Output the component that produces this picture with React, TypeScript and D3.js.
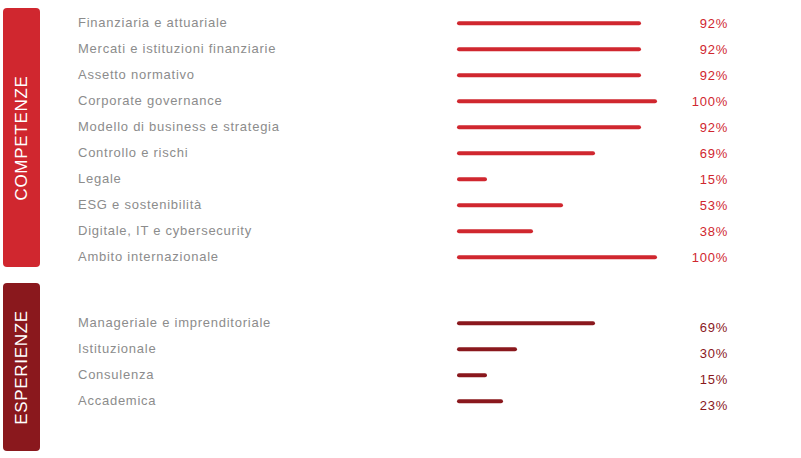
import React from "react";
import * as d3 from "d3";

const compCategories = [
  "Finanziaria e attuariale",
  "Mercati e istituzioni finanziarie",
  "Assetto normativo",
  "Corporate governance",
  "Modello di business e strategia",
  "Controllo e rischi",
  "Legale",
  "ESG e sostenibilità",
  "Digitale, IT e cybersecurity",
  "Ambito internazionale",
];
const compValues = [92, 92, 92, 100, 92, 69, 15, 53, 38, 100];

const espCategories = [
  "Manageriale e imprenditoriale",
  "Istituzionale",
  "Consulenza",
  "Accademica",
];
const espValues = [69, 30, 15, 23];

const groupTitles = ["COMPETENZE", "ESPERIENZE"];

const W = 801;
const H = 458;
const RED = "#d0272f";
const DARK = "#8a181d";
const GRAY = "#8c8c8c";
const FONT = "'Liberation Sans', Arial, Helvetica, sans-serif";

export default function App() {
  const x = d3.scaleLinear().domain([0, 100]).range([457, 657]);
  const yComp = d3
    .scalePoint<string>()
    .domain(compCategories)
    .range([22, 256]);
  const yEsp = d3.scalePoint<string>().domain(espCategories).range([322, 400]);

  const groups = [
    {
      title: groupTitles[0],
      cats: compCategories,
      vals: compValues,
      y: yComp,
      color: RED,
      box: [8, 267],
      pctDy: 0,
    },
    {
      title: groupTitles[1],
      cats: espCategories,
      vals: espValues,
      y: yEsp,
      color: DARK,
      box: [283, 451],
      pctDy: 4,
    },
  ];

  return (
    <svg
      width={W}
      height={H}
      style={{ position: "absolute", left: 0, top: 0 }}
      fontFamily={FONT}
    >
      <rect width={W} height={H} fill="#fff" />
      {groups.map((g) => {
        const cy = (g.box[0] + g.box[1]) / 2;
        return (
          <g key={g.title}>
            <rect
              x={3}
              y={g.box[0]}
              width={37}
              height={g.box[1] - g.box[0]}
              rx={4}
              fill={g.color}
            />
            <text
              transform={`translate(${26.5},${cy + 0.5}) rotate(-90)`}
              textAnchor="middle"
              fill="#fff"
              fontSize={17}
              letterSpacing={0.7}
            >
              {g.title}
            </text>
            {g.cats.map((c, i) => {
              const yy = g.y(c)!;
              return (
                <g key={c}>
                  <text
                    x={78}
                    y={yy + 5}
                    fill={GRAY}
                    fontSize={13}
                    letterSpacing={0.75}
                  >
                    {c}
                  </text>
                  <line
                    x1={x(0) + 2}
                    x2={x(g.vals[i]) - 2}
                    y1={yy + 1.3}
                    y2={yy + 1.3}
                    stroke={g.color}
                    strokeWidth={4}
                    strokeLinecap="round"
                  />
                  <text
                    x={728}
                    y={yy + 5.5 + g.pctDy}
                    fill={g.color}
                    fontSize={13}
                    letterSpacing={0.75}
                    textAnchor="end"
                  >
                    {g.vals[i]}%
                  </text>
                </g>
              );
            })}
          </g>
        );
      })}
    </svg>
  );
}
